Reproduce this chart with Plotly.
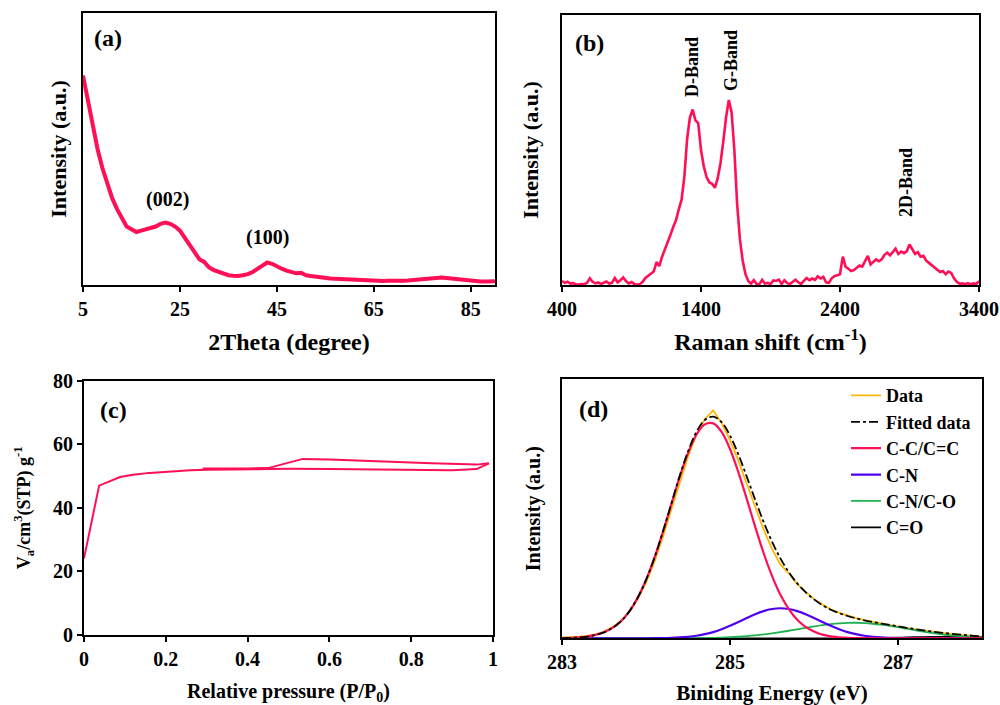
import plotly.graph_objects as go

# ---------------- (a) XRD ----------------
xrd_2theta = list(range(5, 91))
xrd_intensity = [
    77, 68, 58, 50, 43, 37, 32, 28, 24.5, 21.5,
    20.5, 19.5, 20, 20.5, 21, 21.5, 22.5, 23, 22.5, 21.5,
    20, 17.5, 14.5, 12, 9.5, 8.5, 6.5, 5.5, 4.8, 4.2,
    3.6, 3.4, 3.3, 3.6, 4.0, 4.8, 6, 7.5, 8.3, 7.8,
    6.8, 6, 5.3, 4.7, 4.3, 4.5, 3.6, 3.3, 3.0, 2.8,
    2.6, 2.4, 2.3, 2.2, 2.1, 2.0, 1.9, 1.8, 1.7, 1.6,
    1.5, 1.5, 1.5, 1.6, 1.5, 1.5, 1.6, 1.7, 1.9, 2.1,
    2.3, 2.5, 2.7, 2.9, 2.8, 2.6, 2.4, 2.1, 1.9, 1.7,
    1.5, 1.4, 1.3, 1.3, 1.4, 1.4,
]
xrd_labels = ["(002)", "(100)"]

# ---------------- (b) Raman ----------------
raman_shift = list(range(400, 3401, 20))
raman_intensity = [
    1.5, 0.8, 1.2, 0.5, 0.7, 0.3, 0.2, 0.4, 0.3, 0.8,
    2.5, 1.2, 0.6, 1.0, 0.4, 0.8, 1.3, 0.5, 0.9, 2.6,
    1.0, 1.8, 2.8, 1.5, 0.6, 1.1, 0.4, 0.2, 0.3, 1.2,
    2.6, 3.4, 4.2, 5.0, 8.5, 7.0, 10.5, 13.0, 16.0, 18.5,
    21.5, 24.0, 28.0, 31.5, 40.0, 54.0, 62.0, 65.0, 61.0, 60.0,
    50.0, 44.0, 40.0, 38.0, 37.5, 36.0, 39.5, 45.0, 53.0, 62.0,
    68.5, 64.0, 50.0, 30.0, 17.0, 9.0, 4.0, 1.5, 0.5, 1.8,
    0.4, 0.3, 1.9, 0.5, 0.8, 0.3, 1.7, 1.5, 2.0, 0.4,
    1.8, 0.7, 0.4, 1.2, 2.0, 1.0, 0.4, 1.5, 2.6, 1.8,
    2.4, 1.9, 3.2, 2.4, 3.0, 1.0, 0.8, 2.5, 3.3, 3.6,
    4.0, 10.5, 6.8, 6.0, 5.2, 5.5, 6.5, 7.2, 6.8, 8.6,
    10.8, 7.6, 8.4, 9.5, 8.8, 9.5, 11.2, 12.0, 11.0, 12.3,
    13.5, 11.5, 12.4, 11.8, 12.5, 15.0, 13.0, 11.5, 12.2, 10.5,
    10.8, 9.0, 8.2, 7.3, 6.5, 5.5, 4.8, 5.2, 4.0, 5.0,
    4.5, 2.5, 1.2, 0.5, 0.6, 0.3, 0.7, 0.2, 0.6, 0.4,
    1.4,
]
raman_labels = ["D-Band", "G-Band", "2D-Band"]

# ---------------- (c) N2 isotherm ----------------
ads_p = [0.0, 0.037, 0.088, 0.12, 0.16, 0.202, 0.26, 0.30, 0.35, 0.405, 0.45, 0.50,
         0.60, 0.70, 0.80, 0.86, 0.90, 0.96, 0.99]
ads_v = [24.1, 47.0, 49.7, 50.4, 51.0, 51.4, 51.8, 52.0, 52.1, 52.2, 52.3, 52.3,
         52.2, 52.0, 51.8, 51.7, 51.8, 52.2, 54.0]
des_p = [0.99, 0.96, 0.85, 0.70, 0.60, 0.535, 0.45, 0.40, 0.29]
des_v = [54.0, 53.6, 54.0, 54.8, 55.2, 55.4, 52.5, 52.4, 52.4]

# ---------------- (d) XPS C1s ----------------
be = [round(283.0 + 0.1 * i, 1) for i in range(51)]
xps_data = [
    0.3, 0.4, 0.6, 0.9, 1.5, 2.6, 4.3, 6.7, 10.2, 15.0,
    21.5, 29.5, 39.0, 49.5, 60.0, 70.0, 78.5, 84.5, 87.9, 83.0,
    76.5, 68.5, 59.5, 50.5, 42.0, 34.5, 28.5, 25.0, 21.0, 17.8,
    15.2, 13.0, 11.2, 9.8, 8.7, 7.8, 7.0, 6.3, 5.7, 5.1,
    4.5, 4.0, 3.5, 3.0, 2.6, 2.2, 1.8, 1.5, 1.2, 0.9,
    0.6,
]
xps_fit = [
    0.08, 0.16, 0.34, 0.67, 1.3, 2.3, 4.0, 6.5, 10.3, 15.6,
    22.5, 31.0, 41.0, 51.7, 62.5, 72.0, 79.6, 84.2, 85.5, 83.4,
    78.2, 70.9, 62.3, 53.4, 44.9, 37.3, 30.8, 25.5, 21.2, 17.8,
    15.0, 12.8, 11.0, 9.7, 8.6, 7.7, 6.95, 6.3, 5.7, 5.17,
    4.61, 4.05, 3.56, 3.08, 2.63, 2.22, 1.86, 1.53, 1.24, 0.97,
    0.75,
]
xps_cc = [
    0.08, 0.16, 0.34, 0.67, 1.3, 2.3, 4.0, 6.5, 10.3, 15.6,
    22.5, 31.0, 40.9, 51.5, 62.1, 71.4, 78.5, 82.5, 82.9, 79.6,
    73.0, 64.0, 53.7, 43.0, 32.9, 24.1, 16.8, 11.3, 7.2, 4.4,
    2.6, 1.4, 0.76, 0.39, 0.19, 0.09, 0.04, 0.02, 0.01, 0,
    0, 0, 0, 0, 0, 0, 0, 0, 0, 0,
    0,
]
xps_cn = [
    0, 0, 0, 0, 0, 0, 0, 0, 0, 0,
    0.02, 0.04, 0.08, 0.18, 0.33, 0.58, 0.98, 1.6, 2.4, 3.5,
    4.8, 6.3, 7.8, 9.3, 10.5, 11.3, 11.6, 11.3, 10.5, 9.3,
    7.8, 6.3, 4.8, 3.5, 2.4, 1.6, 0.98, 0.58, 0.33, 0.18,
    0.08, 0.04, 0.02, 0, 0, 0, 0, 0, 0, 0,
    0,
]
xps_cnco = [
    0, 0, 0, 0, 0, 0, 0, 0, 0, 0,
    0, 0, 0.01, 0.02, 0.03, 0.05, 0.09, 0.13, 0.20, 0.30,
    0.43, 0.61, 0.84, 1.13, 1.48, 1.90, 2.37, 2.92, 3.47, 4.06,
    4.57, 5.07, 5.48, 5.79, 5.96, 6.0, 5.88, 5.62, 5.24, 4.81,
    4.28, 3.69, 3.14, 2.60, 2.09, 1.64, 1.26, 0.95, 0.70, 0.49,
    0.35,
]
xps_co = [
    0, 0, 0, 0, 0, 0, 0, 0, 0, 0,
    0, 0, 0, 0, 0, 0, 0, 0, 0, 0,
    0, 0, 0, 0, 0, 0, 0, 0, 0, 0,
    0, 0, 0, 0.01, 0.015, 0.03, 0.05, 0.08, 0.12, 0.18,
    0.25, 0.32, 0.40, 0.48, 0.54, 0.58, 0.60, 0.58, 0.54, 0.48,
    0.40,
]
xps_names = ["Data", "Fitted data", "C-C/C=C", "C-N", "C-N/C-O", "C=O"]

RED = "#FF0F55"
FONT = "Liberation Serif"


def f(size):
    return dict(family=FONT, size=size, color="black", weight="bold")


fig = go.Figure()

fig.add_trace(go.Scatter(x=xrd_2theta, y=xrd_intensity, mode="lines",
                         line=dict(color=RED, width=4), xaxis="x", yaxis="y",
                         showlegend=False))
fig.add_trace(go.Scatter(x=raman_shift, y=raman_intensity, mode="lines",
                         line=dict(color=RED, width=2.6), xaxis="x2", yaxis="y2",
                         showlegend=False))
fig.add_trace(go.Scatter(x=ads_p, y=ads_v, mode="lines", line=dict(color=RED, width=2),
                         xaxis="x3", yaxis="y3", showlegend=False))
fig.add_trace(go.Scatter(x=des_p, y=des_v, mode="lines", line=dict(color=RED, width=2),
                         xaxis="x3", yaxis="y3", showlegend=False))

xps_series = [xps_data, xps_fit, xps_cc, xps_cn, xps_cnco, xps_co]
xps_styles = [
    dict(color="#FFB800", width=1.8),
    dict(color="black", width=1.8, dash="dashdot"),
    dict(color=RED, width=2.2),
    dict(color="#5000F0", width=2.2),
    dict(color="#20B050", width=1.8),
    dict(color="black", width=1.8),
]
order = [0, 5, 4, 3, 2, 1]
for i in order:
    shape = "linear" if i == 0 else "spline"
    fig.add_trace(go.Scatter(x=be, y=xps_series[i], mode="lines", name=xps_names[i],
                             line=dict(shape=shape, **xps_styles[i]),
                             xaxis="x4", yaxis="y4", legendgroup=xps_names[i],
                             legendrank=i + 1))

axis_common = dict(showline=True, linecolor="black", linewidth=1.8, mirror=True,
                   showgrid=False, zeroline=False, ticks="outside", ticklen=5,
                   tickwidth=1.5, tickcolor="black", automargin=False,
                   tickfont=f(20))
no_ticks = {**axis_common, "ticks": "", "showticklabels": False}

fig.update_layout(
    width=1000, height=705,
    margin=dict(l=0, r=0, t=0, b=0, autoexpand=False),
    paper_bgcolor="white", plot_bgcolor="white",
    font=dict(family=FONT, color="black", weight="bold"),
    xaxis=dict(domain=[0.083, 0.495], range=[5, 90], tickvals=[5, 25, 45, 65, 85],
               anchor="y", title=dict(text="2Theta (degree)", font=f(24), standoff=14),
               **axis_common),
    yaxis=dict(domain=[0.5957, 0.9816], range=[0, 100], anchor="x",
               title=dict(text="Intensity (a.u.)", font=f(22), standoff=8),
               **no_ticks),
    xaxis2=dict(domain=[0.562, 0.979], range=[400, 3400], tickvals=[400, 1400, 2400, 3400],
                anchor="y2", title=dict(text="Raman shift (cm<sup>-1</sup>)", font=f(24), standoff=14),
                **axis_common),
    yaxis2=dict(domain=[0.5957, 0.9787], range=[0, 100], anchor="x2",
                title=dict(text="Intensity (a.u.)", font=f(22), standoff=15),
                **no_ticks),
    xaxis3=dict(domain=[0.084, 0.493], range=[0, 1], tickvals=[0, 0.2, 0.4, 0.6, 0.8, 1],
                ticktext=["0", "0.2", "0.4", "0.6", "0.8", "1"], anchor="y3",
                title=dict(text="Relative pressure (P/P<sub>0</sub>)", font=f(20), standoff=18),
                **axis_common),
    yaxis3=dict(domain=[0.0993, 0.46], range=[0, 80], tickvals=[0, 20, 40, 60, 80], anchor="x3",
                title=dict(text="V<sub>a</sub>/cm<sup>3</sup>(STP) g<sup>-1</sup>", font=f(18), standoff=18),
                **axis_common),
    xaxis4=dict(domain=[0.562, 0.982], range=[283, 288], tickvals=[283, 285, 287], anchor="y4",
                title=dict(text="Biniding Energy (eV)", font=f(21), standoff=18),
                **axis_common),
    yaxis4=dict(domain=[0.0946, 0.4624], range=[0, 100], anchor="x4",
                title=dict(text="Intensity (a.u.)", font=f(20), standoff=14),
                **no_ticks),
    legend=dict(x=0.846, y=0.465, xanchor="left", yanchor="top",
                font=f(18), bgcolor="rgba(0,0,0,0)", tracegroupgap=1.5, itemwidth=30,
                traceorder="normal"),
)

ann = [
    dict(text="(a)", x=10.2, y=90.8, xref="x", yref="y", font=f(24)),
    dict(text=xrd_labels[0], x=22.5, y=31.6, xref="x", yref="y", font=f(20)),
    dict(text=xrd_labels[1], x=43.1, y=17.3, xref="x", yref="y", font=f(20)),
    dict(text="(b)", x=601, y=89.6, xref="x2", yref="y2", font=f(24)),
    dict(text=raman_labels[0], x=1335, y=80.7, xref="x2", yref="y2", font=f(18), textangle=-90),
    dict(text=raman_labels[1], x=1616, y=83.0, xref="x2", yref="y2", font=f(18), textangle=-90),
    dict(text=raman_labels[2], x=2875, y=37.8, xref="x2", yref="y2", font=f(18), textangle=-90),
    dict(text="(c)", x=0.071, y=70.9, xref="x3", yref="y3", font=f(24)),
    dict(text="(d)", x=283.37, y=88.5, xref="x4", yref="y4", font=f(24)),
]
for a in ann:
    a["showarrow"] = False
fig.update_layout(annotations=ann)

fig.write_html("out.html", config={"displayModeBar": False},
               post_script="document.body.style.margin='0px';")
